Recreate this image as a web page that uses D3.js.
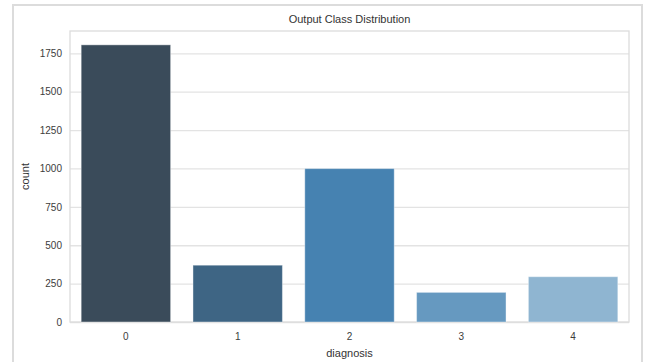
<!DOCTYPE html>
<html><head><meta charset="utf-8">
<script src="https://cdn.jsdelivr.net/npm/d3@7"></script>
<style>body{margin:0;background:#fff;}svg{display:block;font-family:Arial,"Liberation Sans",sans-serif;}</style>
</head><body><svg id="c" width="646" height="362"></svg>
<script>
const categories = ["0","1","2","3","4"];
const counts = [1805, 370, 999, 193, 295];
const colors = ["#3a4b5a","#3e6584","#4682b1","#6699c0","#8fb5d1"];
const yTicks = [0,250,500,750,1000,1250,1500,1750];

const svg = d3.select("#c");
const m = {l:70, t:31, r:629, b:322};
svg.append("rect").attr("x",13).attr("y",5).attr("width",629).attr("height",370)
  .attr("fill","#fff").attr("stroke","#dcdcdc").attr("stroke-width",2);

const x = d3.scaleBand().domain(categories).range([m.l,m.r]).paddingInner(0.2).paddingOuter(0.1);
const y = d3.scaleLinear().domain([0, d3.max(counts)*1.05]).range([m.b,m.t]);

const yAxis = d3.axisLeft(y).tickValues(yTicks).tickFormat(d3.format("d")).tickSize(-(m.r-m.l)).tickPadding(8);
const gy = svg.append("g").attr("transform",`translate(${m.l},0)`).call(yAxis);
gy.select(".domain").remove();
gy.selectAll(".tick line").attr("stroke","#e3e3e3").attr("stroke-width",1.3);
gy.selectAll(".tick text").attr("fill","#3c3c3c").style("font-size","10px");

svg.append("rect").attr("x",m.l).attr("y",m.t).attr("width",m.r-m.l).attr("height",m.b-m.t)
  .attr("fill","none").attr("stroke","#dcdcdc").attr("stroke-width",1.3);

svg.append("g").selectAll("rect").data(counts).join("rect")
  .attr("x",(d,i)=>x(categories[i])).attr("width",x.bandwidth())
  .attr("y",d=>y(d)).attr("height",d=>y(0)-y(d))
  .attr("fill",(d,i)=>colors[i]).attr("stroke","#ffffff").attr("stroke-opacity",0.4).attr("stroke-width",1);

const xAxis = d3.axisBottom(x).tickSize(0).tickPadding(11);
const gx = svg.append("g").attr("transform",`translate(0,${m.b})`).call(xAxis);
gx.select(".domain").remove();
gx.selectAll(".tick text").attr("fill","#3c3c3c").style("font-size","10px");

svg.append("text").attr("x",(m.l+m.r)/2).attr("y",23).attr("text-anchor","middle")
  .attr("fill","#333").style("font-size","11px").text("Output Class Distribution");
svg.append("text").attr("x",(m.l+m.r)/2).attr("y",357).attr("text-anchor","middle")
  .attr("fill","#333").style("font-size","11px").text("diagnosis");
svg.append("text").attr("transform",`translate(29,${(m.t+m.b)/2}) rotate(-90)`).attr("text-anchor","middle")
  .attr("fill","#333").style("font-size","11px").text("count");
</script></body></html>
